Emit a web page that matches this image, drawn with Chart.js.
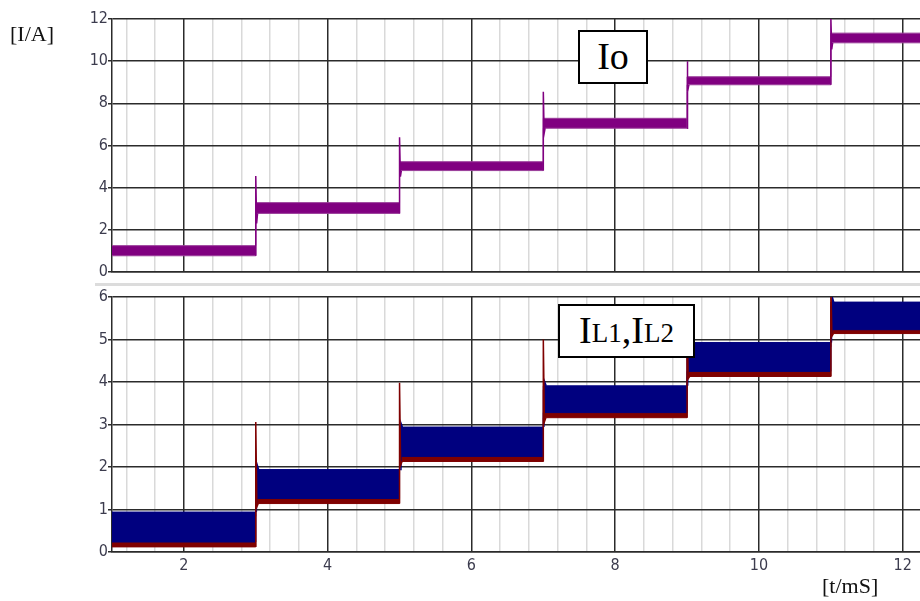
<!DOCTYPE html>
<html>
<head>
<meta charset="utf-8">
<script src="https://cdn.jsdelivr.net/npm/chart.js@4/dist/chart.umd.min.js"></script>
<style>
  html, body { margin: 0; padding: 0; background: #fff; width: 920px; height: 601px; overflow: hidden; }
  body { position: relative; }
  canvas { position: absolute; left: 0; top: 0; }
  .unit { position: absolute; font-family: 'Liberation Serif', 'Times New Roman', serif; font-size: 22px; line-height: 22px; color: #111; white-space: nowrap; }
  .tag { position: absolute; box-sizing: border-box; border: 2px solid #000; background: #fff;
         display: flex; align-items: center; justify-content: center; padding-bottom: 3px;
         font-family: 'Liberation Serif', 'Times New Roman', serif; font-size: 38px; line-height: 1; color: #000; white-space: nowrap; }
  .tag .sub { font-size: 27px; position: relative; top: 4px; }
  .sep { position: absolute; left: 95px; top: 283px; width: 825px; height: 3px; background: #dcdcdc; }
</style>
</head>
<body>
<canvas id="ioChart" width="920" height="601"></canvas>
<canvas id="ilChart" width="920" height="601"></canvas>
<div class="sep"></div>
<div class="unit" style="left:10px;top:23px">[I/A]</div>
<div class="unit" style="left:822px;top:575px">[t/mS]</div>
<div class="tag" style="left:578px;top:30px;width:70px;height:54px">Io</div>
<div class="tag" style="left:558px;top:304px;width:137px;height:54px">I<span class="sub">L1</span>,I<span class="sub">L2</span></div>

<script>
// Time axis (ms): each load step starts at these instants
const stepTimes = [1, 3, 5, 7, 9, 11];
const tStart = 1;
const tEnd = 12.24;

// Output current Io: ripple band limits per load step, overshoot peaks and settling dips
const ioHigh  = [1.25, 3.29, 5.23, 7.29, 9.26, 11.33];
const ioLow   = [0.77, 2.78, 4.81, 6.82, 8.88, 10.87];
const ioPeaks = [4.55, 6.39, 8.55, 10.0, 12.08];
const ioDips  = [2.3, 4.52, 6.58, 8.55, 10.56];

// Inductor current IL1 (lower phase, dark red)
const il1High  = [0.84, 1.85, 2.84, 3.82, 4.83, 5.79];
const il1Low   = [0.12, 1.14, 2.13, 3.16, 4.13, 5.14];
const il1Peaks = [3.06, 3.98, 5.0, 5.7, 6.3];
const il1Dips  = [1.06, 2.04, 3.06, 4.08, 5.08];

// Inductor current IL2 (upper phase, navy)
const il2High  = [0.94, 1.94, 2.94, 3.91, 4.93, 5.88];
const il2Low   = [0.235, 1.26, 2.25, 3.28, 4.25, 5.23];
const il2Peaks = [2.05, 3.03, 4.0, 5.0, 6.0];

// Axis tick labels
const xTickLabels = [2, 4, 6, 8, 10, 12];
const ioTickLabels = [0, 2, 4, 6, 8, 10, 12];
const ilTickLabels = [0, 1, 2, 3, 4, 5, 6];

const PURPLE = '#800080';
const PURPLE_EDGE = '#9a3d9a';
const NAVY = '#00007f';
const MAROON = '#7f0000';
const GRID_DARK = '#2b2b2b';
const GRID_LIGHT = '#d9d9d9';
// narrow digits: 'condensed' sits in the weight slot of Chart.js' font string
const TICK_FONT = { family: "'Liberation Sans Narrow', 'DejaVu Sans', sans-serif", size: 16, weight: 'condensed' };
const TICK_COLOR = '#3c3c4e';

// vertical grid every 0.4 ms, darker every 2 ms
const gridTimes = [];
for (let k = 3; k * 0.4 <= tEnd + 1e-9; k++) gridTimes.push(+(k * 0.4).toFixed(2));
const isMajorTime = v => Math.abs(v / 2 - Math.round(v / 2)) < 1e-6;

// stepped band edge: one flat run per load step, vertical jumps at the step instants
function bandEdge(levels) {
  const pts = [];
  levels.forEach((v, i) => {
    pts.push({ x: stepTimes[i], y: v });
    pts.push({ x: i + 1 < stepTimes.length ? stepTimes[i + 1] : tEnd + 0.1, y: v });
  });
  return pts;
}

// switching transients: jump from previous level to the overshoot peak, then settle
function transient(prevLevels, peaks, dips, nextLevels, dx) {
  const pts = [];
  peaks.forEach((p, i) => {
    const t = stepTimes[i + 1];
    pts.push({ x: t + dx[0], y: prevLevels[i] });
    pts.push({ x: t + dx[1], y: p });
    if (dips) pts.push({ x: t + dx[2], y: dips[i] });
    pts.push({ x: t + dx[3], y: nextLevels[i + 1] });
    pts.push({ x: t + dx[3], y: null });
  });
  return pts;
}

function lineSet(data, color, width, order, fill, fillColor) {
  return {
    data, borderColor: color, borderWidth: width, pointRadius: 0,
    backgroundColor: fillColor || color, fill: fill || false, order, tension: 0, spanGaps: false
  };
}

function makeChart(id, datasets, yMax, yTicks, top, bottom, showX) {
  return new Chart(document.getElementById(id), {
    type: 'line',
    data: { datasets },
    options: {
      responsive: false, animation: false, devicePixelRatio: 1, events: [],
      layout: { padding: { left: 0, right: 0, top, bottom } },
      plugins: { legend: { display: false }, tooltip: { enabled: false } },
      scales: {
        x: {
          type: 'linear', min: tStart, max: tEnd,
          afterBuildTicks: s => { s.ticks = gridTimes.map(v => ({ value: v })); },
          afterFit: s => { s.height = showX ? 22 : 0; },
          ticks: {
            display: showX, autoSkip: false, maxRotation: 0, padding: 4,
            font: TICK_FONT, color: TICK_COLOR,
            callback: v => xTickLabels.some(l => Math.abs(l - v) < 1e-6) ? String(Math.round(v)) : ''
          },
          grid: {
            drawTicks: false,
            color: c => isMajorTime(c.tick.value) ? GRID_DARK : GRID_LIGHT,
            lineWidth: 1.5
          },
          border: { display: true, color: GRID_DARK, width: 1.5 }
        },
        y: {
          type: 'linear', min: 0, max: yMax,
          afterBuildTicks: s => { s.ticks = yTicks.map(v => ({ value: v })); },
          afterFit: s => { s.width = 112; },
          ticks: { padding: 0, font: TICK_FONT, color: TICK_COLOR, autoSkip: false },
          grid: { color: GRID_DARK, lineWidth: 1.5, tickLength: 4 },
          border: { display: true, color: GRID_DARK, width: 1.5 }
        }
      }
    }
  });
}

// Upper panel: output current Io
makeChart('ioChart', [
  lineSet(transient(ioLow, ioPeaks, ioDips, ioLow, [0, 0, 0.012, 0.025]), PURPLE, 1.5, 0),
  lineSet(bandEdge(ioHigh), PURPLE_EDGE, 1, 1),
  lineSet(bandEdge(ioLow), PURPLE_EDGE, 1, 1, '-1', PURPLE)
], 12, ioTickLabels, 19, 329, false);

// Lower panel: inductor currents IL1, IL2
makeChart('ilChart', [
  lineSet(transient(il1Low, il1Peaks, il1Dips, il1Low, [0, 0, 0.015, 0.035]), MAROON, 1.5, 0),
  lineSet(transient(il2High, il2Peaks, null, il2High, [0.008, 0.02, 0, 0.04]), NAVY, 1.5, 1),
  lineSet(bandEdge(il2High), NAVY, 1, 2),
  lineSet(bandEdge(il2Low), NAVY, 1, 2, '-1'),
  lineSet(bandEdge(il1High), MAROON, 1, 3),
  lineSet(bandEdge(il1Low), MAROON, 1, 3, '-1')
], 6, ilTickLabels, 297, 601 - 552 - 22, true);
</script>
</body>
</html>
